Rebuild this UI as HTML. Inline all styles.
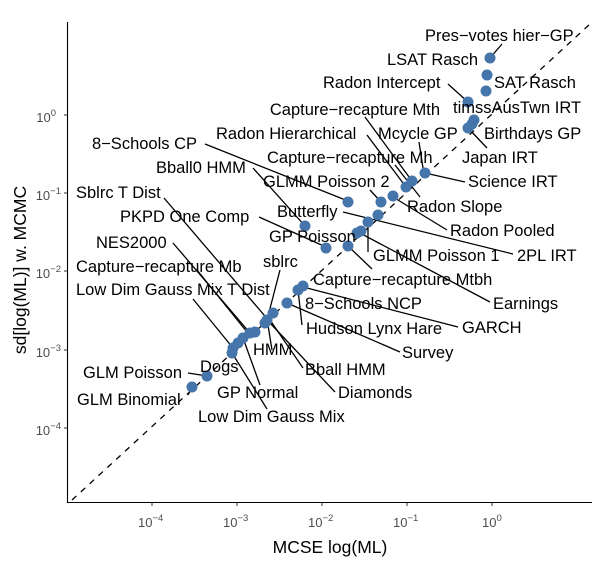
<!DOCTYPE html>
<html><head><meta charset="utf-8"><style>
html,body{margin:0;padding:0;background:#fff;}
svg{display:block;font-family:"Liberation Sans",Arial,sans-serif;}
.l{font-size:16.5px;fill:#000;}
.t{font-size:13px;fill:#4d4d4d;}
.s{font-size:9.5px;fill:#4d4d4d;}
</style></head><body>
<svg width="605" height="561" viewBox="0 0 605 561" xmlns="http://www.w3.org/2000/svg">
<rect width="605" height="561" fill="#fff"/>
<line x1="67.5" y1="22" x2="67.5" y2="502.5" stroke="#000" stroke-width="1.1"/>
<line x1="67" y1="502.5" x2="592" y2="502.5" stroke="#000" stroke-width="1.1"/>
<g stroke="#333" stroke-width="1">
<line x1="64" y1="115" x2="67" y2="115"/><line x1="64" y1="193" x2="67" y2="193"/>
<line x1="64" y1="271" x2="67" y2="271"/><line x1="64" y1="350" x2="67" y2="350"/>
<line x1="64" y1="428" x2="67" y2="428"/>
<line x1="152" y1="503" x2="152" y2="506"/><line x1="237" y1="503" x2="237" y2="506"/>
<line x1="322" y1="503" x2="322" y2="506"/><line x1="407" y1="503" x2="407" y2="506"/>
<line x1="492" y1="503" x2="492" y2="506"/>
</g>
<g text-anchor="end">
<text class="t" x="56" y="122">10<tspan class="s" dy="-6">0</tspan></text>
<text class="t" x="61" y="200">10<tspan class="s" dy="-6">−1</tspan></text>
<text class="t" x="61" y="278">10<tspan class="s" dy="-6">−2</tspan></text>
<text class="t" x="61" y="357">10<tspan class="s" dy="-6">−3</tspan></text>
<text class="t" x="61" y="435">10<tspan class="s" dy="-6">−4</tspan></text>
</g>
<text class="t" x="138" y="527">10<tspan class="s" dy="-6">−4</tspan></text>
<text class="t" x="223" y="527">10<tspan class="s" dy="-6">−3</tspan></text>
<text class="t" x="308" y="527">10<tspan class="s" dy="-6">−2</tspan></text>
<text class="t" x="393" y="527">10<tspan class="s" dy="-6">−1</tspan></text>
<text class="t" x="482" y="527">10<tspan class="s" dy="-6">0</tspan></text>
<text x="330" y="553" text-anchor="middle" font-size="17.5">MCSE log(ML)</text>
<text x="0" y="0" transform="translate(26,270) rotate(-90)" text-anchor="middle" font-size="17.5">sd[log(ML)] w. MCMC</text>
<line x1="72" y1="500" x2="590" y2="24" stroke="#000" stroke-width="1.3" stroke-dasharray="6,6"/>
<g stroke="#000" stroke-width="1.3">
<line x1="502" y1="44" x2="490" y2="58"/>
<line x1="448" y1="84" x2="468" y2="102"/>
<line x1="487" y1="148" x2="468" y2="128"/>
<line x1="365" y1="117" x2="412" y2="181"/>
<line x1="367" y1="135" x2="406" y2="187"/>
<line x1="395" y1="165" x2="420" y2="197"/>
<line x1="419" y1="142" x2="423" y2="168"/>
<line x1="465" y1="182" x2="425" y2="173"/>
<line x1="370" y1="190" x2="381" y2="202"/>
<line x1="205" y1="144" x2="348" y2="201"/>
<line x1="253" y1="168" x2="305" y2="226"/>
<line x1="164" y1="198" x2="270" y2="322"/>
<line x1="259" y1="217" x2="326" y2="247"/>
<line x1="173" y1="243" x2="250" y2="333"/>
<line x1="343" y1="212" x2="513" y2="254"/>
<line x1="447" y1="230" x2="393" y2="197"/>
<line x1="368" y1="252" x2="368" y2="223"/>
<line x1="490" y1="302" x2="358" y2="232"/>
<line x1="372" y1="269" x2="348" y2="246"/>
<line x1="458" y1="327" x2="303" y2="287"/>
<line x1="400" y1="352" x2="287" y2="303"/>
<line x1="302" y1="325" x2="298" y2="290"/>
<line x1="280" y1="270" x2="267" y2="320"/>
<line x1="197" y1="270" x2="247" y2="332"/>
<line x1="193" y1="299" x2="233" y2="348"/>
<line x1="260" y1="385" x2="243" y2="338"/>
<line x1="267" y1="409" x2="232" y2="353"/>
<line x1="335" y1="392" x2="270" y2="323"/>
<line x1="303" y1="368" x2="270" y2="320"/>
<line x1="272" y1="350" x2="268" y2="325"/>
<line x1="188" y1="373" x2="207" y2="376"/>
<line x1="188" y1="395" x2="192" y2="387"/>
</g>
<g fill="#4575aa">
<circle cx="490" cy="58" r="5.5"/><circle cx="487" cy="75" r="5.5"/><circle cx="486" cy="91" r="5.5"/>
<circle cx="468" cy="102" r="5.5"/><circle cx="474" cy="120" r="5.5"/><circle cx="472" cy="124" r="5.5"/><circle cx="468" cy="128" r="5.5"/>
<circle cx="425" cy="173" r="5.5"/><circle cx="412" cy="181" r="5.5"/><circle cx="406" cy="187" r="5.5"/>
<circle cx="393" cy="196" r="5.5"/><circle cx="381" cy="202" r="5.5"/><circle cx="348" cy="202" r="5.5"/>
<circle cx="378" cy="215" r="5.5"/><circle cx="368" cy="222" r="5.5"/><circle cx="361" cy="231" r="5.5"/><circle cx="357" cy="233" r="5.5"/>
<circle cx="348" cy="246" r="5.5"/><circle cx="326" cy="248" r="5.5"/><circle cx="305" cy="226" r="5.5"/>
<circle cx="303" cy="286" r="5.5"/><circle cx="298" cy="290" r="5.5"/><circle cx="287" cy="303" r="5.5"/>
<circle cx="273" cy="313" r="5.5"/><circle cx="267" cy="320" r="5.5"/><circle cx="265" cy="323" r="5.5"/>
<circle cx="255" cy="332" r="5.5"/><circle cx="250" cy="333" r="5.5"/><circle cx="243" cy="338" r="5.5"/>
<circle cx="238" cy="343" r="5.5"/><circle cx="233" cy="348" r="5.5"/><circle cx="232" cy="353" r="5.5"/>
<circle cx="207" cy="376" r="5.5"/><circle cx="192" cy="387" r="5.5"/>
</g>
<g>
<text class="l" x="425" y="41">Pres−votes hier−GP</text>
<text class="l" x="387" y="65">LSAT Rasch</text>
<text class="l" x="494" y="88">SAT Rasch</text>
<text class="l" x="323" y="88">Radon Intercept</text>
<text class="l" x="453" y="113">timssAusTwn IRT</text>
<text class="l" x="440" y="115" text-anchor="end">Capture−recapture Mth</text>
<text class="l" x="216" y="139">Radon Hierarchical</text>
<text class="l" x="378" y="139">Mcycle GP</text>
<text class="l" x="484" y="139">Birthdays GP</text>
<text class="l" x="92" y="149">8−Schools CP</text>
<text class="l" x="267" y="163">Capture−recapture Mh</text>
<text class="l" x="462" y="163">Japan IRT</text>
<text class="l" x="156" y="173">Bball0 HMM</text>
<text class="l" x="468" y="187">Science IRT</text>
<text class="l" x="263" y="187">GLMM Poisson 2</text>
<text class="l" x="76" y="198">Sblrc T Dist</text>
<text class="l" x="407" y="212">Radon Slope</text>
<text class="l" x="277" y="217">Butterfly</text>
<text class="l" x="120" y="222">PKPD One Comp</text>
<text class="l" x="450" y="236">Radon Pooled</text>
<text class="l" x="269" y="242">GP Poisson</text>
<text class="l" x="96" y="248">NES2000</text>
<text class="l" x="373" y="261">GLMM Poisson 1</text>
<text class="l" x="517" y="261">2PL IRT</text>
<text class="l" x="263" y="267">sblrc</text>
<text class="l" x="76" y="272">Capture−recapture Mb</text>
<text class="l" x="313" y="285">Capture−recapture Mtbh</text>
<text class="l" x="76" y="295">Low Dim Gauss Mix T Dist</text>
<text class="l" x="305" y="309">8−Schools NCP</text>
<text class="l" x="493" y="309">Earnings</text>
<text class="l" x="462" y="333">GARCH</text>
<text class="l" x="306" y="334">Hudson Lynx Hare</text>
<text class="l" x="253" y="355">HMM</text>
<text class="l" x="402" y="358">Survey</text>
<text class="l" x="200" y="372">Dogs</text>
<text class="l" x="305" y="375">Bball HMM</text>
<text class="l" x="83" y="378">GLM Poisson</text>
<text class="l" x="217" y="398">GP Normal</text>
<text class="l" x="338" y="398">Diamonds</text>
<text class="l" x="77" y="405">GLM Binomial</text>
<text class="l" x="198" y="422">Low Dim Gauss Mix</text>
</g>
</svg>
</body></html>
